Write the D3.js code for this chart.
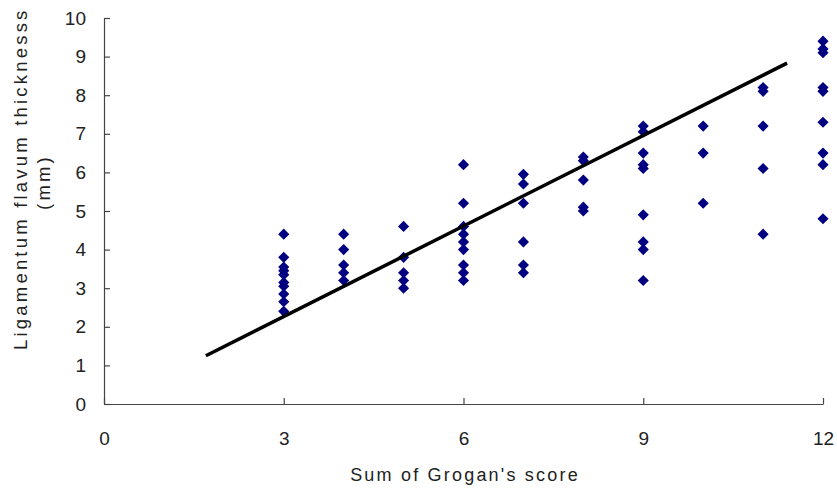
<!DOCTYPE html>
<html><head><meta charset="utf-8">
<script src="https://cdn.jsdelivr.net/npm/d3@7"></script>
<style>body{margin:0;background:#fff;} svg{display:block;font-family:"Liberation Sans",Arial,sans-serif;}</style>
</head><body>
<svg id="c" width="837" height="490"></svg>
<script>
const scoreX = [3,3,3,3,3,3,3,3,3,3, 4,4,4,4,4, 5,5,5,5,5, 6,6,6,6,6,6,6,6,6, 7,7,7,7,7,7, 8,8,8,8,8, 9,9,9,9,9,9,9,9,9, 10,10,10, 11,11,11,11,11, 12,12,12,12,12,12,12,12,12];
const thicknessY = [4.4,3.8,3.55,3.45,3.35,3.15,3.05,2.85,2.65,2.4, 4.4,4.0,3.6,3.4,3.2, 4.6,3.8,3.4,3.2,3.0, 6.2,5.2,4.6,4.4,4.2,4.0,3.6,3.4,3.2, 5.95,5.7,5.2,4.2,3.6,3.4, 6.4,6.3,5.8,5.1,5.0, 7.2,7.05,6.5,6.2,6.1,4.9,4.2,4.0,3.2, 7.2,6.5,5.2, 8.2,8.1,7.2,6.1,4.4, 9.4,9.2,9.1,8.2,8.1,7.3,6.5,6.2,4.8];
const fitX = [1.7, 11.4];
const fitY = [1.25, 8.83];
const xTicks = [0,3,6,9,12];
const yTicks = [0,1,2,3,4,5,6,7,8,9,10];

const svg = d3.select("#c");
const x = d3.scaleLinear().domain([0,12]).range([104,823]);
const y = d3.scaleLinear().domain([0,10]).range([404,18]);

const xAxis = svg.append("g").attr("transform","translate(0,404)")
  .call(d3.axisBottom(x).tickValues(xTicks).tickSizeInner(-6).tickSizeOuter(0).tickPadding(28));
const yAxis = svg.append("g").attr("transform","translate(104,0)")
  .call(d3.axisLeft(y).tickValues(yTicks).tickSizeInner(-6).tickSizeOuter(0).tickPadding(18));
[xAxis,yAxis].forEach(a=>{
  a.selectAll("path,line").attr("stroke","#444").attr("stroke-width",1.2);
  a.selectAll("text").attr("font-size",19).attr("fill","#222").attr("font-family","Liberation Sans, Arial, sans-serif");
});

const pts = scoreX.map((v,i)=>[v,thicknessY[i]]);
svg.append("g").selectAll("path").data(pts).join("path")
  .attr("d", d3.symbol(d3.symbolSquare, 62)())
  .attr("transform", d=>`translate(${x(d[0])},${y(d[1])}) rotate(45)`)
  .attr("fill","#000080");

svg.append("line")
  .attr("x1",x(fitX[0])).attr("y1",y(fitY[0]))
  .attr("x2",x(fitX[1])).attr("y2",y(fitY[1]))
  .attr("stroke","#000").attr("stroke-width",3.5);

svg.append("text").attr("x",465).attr("y",481).attr("text-anchor","middle")
  .attr("font-size",18).attr("letter-spacing",2.2).attr("fill","#222").text("Sum of Grogan's score");

const yl = svg.append("text").attr("transform","rotate(-90)")
  .attr("font-size",18.5).attr("letter-spacing",3.2).attr("fill","#222");
yl.append("tspan").attr("x",-350).attr("y",27).attr("text-anchor","start").text("Ligamentum flavum thicknesss");
svg.append("text").attr("transform","rotate(-90)")
  .attr("font-size",18.5).attr("letter-spacing",3.2).attr("fill","#222")
  .attr("x",-182).attr("y",50).attr("text-anchor","middle").text("(mm)");
</script>
</body></html>
